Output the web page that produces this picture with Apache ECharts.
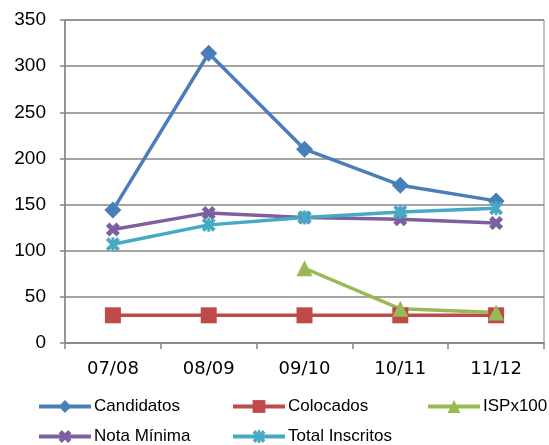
<!DOCTYPE html>
<html>
<head>
<meta charset="utf-8">
<script src="https://cdn.jsdelivr.net/npm/echarts@6/dist/echarts.min.js"></script>
<style>
  html, body { margin: 0; padding: 0; background: #fff; }
  #chart { width: 549px; height: 445px; }
</style>
</head>
<body>
<div id="chart"></div>
<script>
  // categories (school years)
  var years = ['07/08', '08/09', '09/10', '10/11', '11/12'];
  var candidatos = [144, 314, 210, 171, 154];
  var colocados = [30, 30, 30, 30, 30];
  var ispx100 = [null, null, 81, 37, 33];
  var notaMinima = [123, 141, 136, 134, 130];
  var totalInscritos = [107, 128, 136, 142, 146];
  var yTicks = [0, 50, 100, 150, 200, 250, 300, 350];

  // thick X and asterisk markers
  var xMark = 'path://M0,5 L5,0 L10,5 L15,0 L20,5 L15,10 L20,15 L15,20 L10,15 L5,20 L0,15 L5,10 Z';
  var starMark = 'path://M0,4 L4,0 L10,6 L16,0 L20,4 L14,10 L20,16 L16,20 L10,14 L4,20 L0,16 L6,10 Z M8,0 L12,0 L12,20 L8,20 Z';

  var font = 'Liberation Sans, DejaVu Sans, sans-serif';
  var chart = echarts.init(document.getElementById('chart'), null, { renderer: 'canvas' });

  function line(name, data, color, symbol, size) {
    return {
      name: name,
      type: 'line',
      data: data,
      color: color,
      symbol: symbol,
      symbolSize: size,
      showAllSymbol: true,
      connectNulls: false,
      lineStyle: { width: 3.5, color: color },
      itemStyle: { color: color, borderWidth: 0 },
      animation: false
    };
  }

  function legendAt(name, x, y) {
    return {
      left: x, top: y,
      itemWidth: 52,
      itemHeight: 16,
      itemGap: 0,
      data: [name],
      lineStyle: { width: 4 },
      textStyle: { fontFamily: font, fontSize: 17, color: '#000', padding: [0, 0, 0, -2] }
    };
  }

  chart.setOption({
    backgroundColor: '#fff',
    grid: {
      left: 65, right: 5, top: 20, bottom: 102,
      show: true, borderColor: '#868686', borderWidth: 1
    },
    legend: [
      legendAt('Candidatos', 32, 393),
      legendAt('Colocados', 226, 393),
      legendAt('ISPx100', 421, 393),
      legendAt('Nota Mínima', 32, 423),
      legendAt('Total Inscritos', 226, 423)
    ],
    xAxis: {
      type: 'category',
      data: years,
      boundaryGap: true,
      axisLine: { lineStyle: { color: '#868686', width: 1.5 } },
      axisTick: { show: true, length: 6, lineStyle: { color: '#868686', width: 1.5 } },
      axisLabel: { fontFamily: 'DejaVu Sans, sans-serif', fontSize: 18, color: '#000', margin: 17 }
    },
    yAxis: {
      type: 'value',
      min: yTicks[0],
      max: yTicks[yTicks.length - 1],
      interval: 50,
      axisLine: { show: true, lineStyle: { color: '#868686', width: 1.5 } },
      axisTick: { show: true, length: 5, lineStyle: { color: '#868686', width: 1.5 } },
      splitLine: { lineStyle: { color: '#868686', width: 1.5 } },
      axisLabel: { fontFamily: font, fontSize: 19, color: '#000', margin: 19 }
    },
    series: [
      line('Candidatos', candidatos, '#4A7EBB', 'diamond', 17),
      line('Colocados', colocados, '#BE4B48', 'rect', 16),
      line('ISPx100', ispx100, '#98B954', 'triangle', 16),
      line('Nota Mínima', notaMinima, '#7D60A0', xMark, 14),
      line('Total Inscritos', totalInscritos, '#46AAC5', starMark, 14)
    ]
  });
</script>
</body>
</html>
